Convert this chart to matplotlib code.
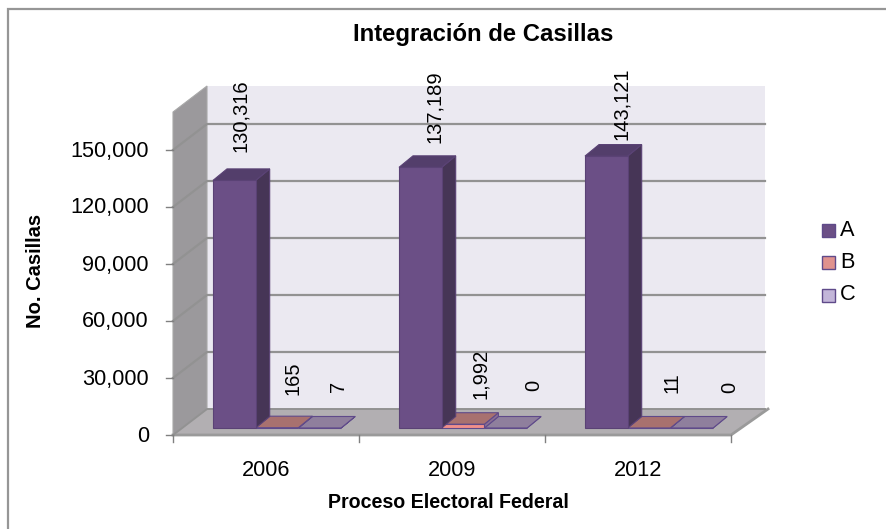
import matplotlib
matplotlib.use("Agg")
import matplotlib.pyplot as plt
from matplotlib.patches import Polygon, Rectangle

categories = ["2006", "2009", "2012"]
series_names = ["A", "B", "C"]
series_A = [130316, 137189, 143121]
series_B = [165, 1992, 11]
series_C = [7, 0, 0]
y_ticks = [0, 30000, 60000, 90000, 120000, 150000]
wall_max = 170000

W, H = 886, 529
plt.rcParams["font.family"] = ["Liberation Sans", "DejaVu Sans"]
fig = plt.figure(figsize=(W / 100, H / 100), dpi=100, facecolor="white")
ax = fig.add_axes([0, 0, 1, 1])

X0, CAT_W, Y0, PX_PER_VAL = 173, 186, 435, 57 / 30000
ax.set_xlim(-X0 / CAT_W, (W - X0) / CAT_W)
ax.set_ylim((Y0 - H) / PX_PER_VAL, Y0 / PX_PER_VAL)
ax.axis("off")


def dx(px):
    return px / CAT_W


def dy(px):
    return px / PX_PER_VAL


def poly(pts, **kw):
    ax.add_patch(Polygon(pts, closed=True, **kw))


WALL_DX, WALL_DY = 34, 26
x_end = len(categories)

# frame: its right and bottom sides lie beyond the picture's edge
ax.add_patch(Rectangle((dx(8.5 - X0), dy(Y0 - 560)), dx(920), dy(551.5),
                       fc="white", ec="#969696", lw=1.6))

# back wall
poly([(dx(WALL_DX), dy(WALL_DY)), (x_end + dx(WALL_DX), dy(WALL_DY)),
      (x_end + dx(WALL_DX), dy(WALL_DY) + wall_max), (dx(WALL_DX), dy(WALL_DY) + wall_max)],
     fc="#ebe9f1", ec="none", zorder=1)
# side wall
poly([(0, 0), (dx(WALL_DX), dy(WALL_DY)), (dx(WALL_DX), dy(WALL_DY) + wall_max), (0, wall_max)],
     fc="#9b999c", ec="#a8a8a8", lw=0.8, zorder=1)
# floor
poly([(0, 0), (x_end, 0), (x_end + dx(WALL_DX + 3), dy(WALL_DY)), (dx(WALL_DX), dy(WALL_DY))],
     fc="#b2afb2", ec="none", zorder=1.5)
ax.plot([0, x_end, x_end + dx(WALL_DX + 3)], [0, 0, dy(WALL_DY)], color="#9a9a9a", lw=2, zorder=1.6)

# gridlines
for v in y_ticks:
    ax.plot([0, dx(WALL_DX), x_end + dx(WALL_DX)], [v, v + dy(WALL_DY), v + dy(WALL_DY)],
            color="#929292", lw=1.6 if v else 1.4, zorder=1.7, solid_joinstyle="miter")
    ax.plot([dx(-7), 0], [v, v], color="#808080", lw=1, zorder=1.7)
    ax.text(dx(-24), v - dy(1), f"{v:,}", ha="right", va="center", fontsize=15.7, color="black")

for i in range(x_end + 1):
    ax.plot([i, i], [0, dy(-7)], color="#808080", lw=1, zorder=1.7)

# bars
BAR_W, BAR_DX, BAR_DY = 42.7, 14, 11.5
LEFT_PAD, BASE_PX = 40, 7
styles = [("#6b4f86", "#533e6b", "#463556", "#5a4275"),
          ("#f08f8a", "#a8716f", "#8b6f93", "#5f4a8a"),
          ("#c3b6d9", "#8f7f9d", "#7a6a94", "#5f4a8a")]
series = [series_A, series_B, series_C]
label_dx = [[28, 36, 37], [37, 39, 44], [40, 49, 59]]
label_dy = [[53, 49, 40.5], [38, 39, 33.5], [30.5, 31.5, 29.5]]
for c in range(x_end):
    for s, vals in enumerate(series):
        v = vals[c]
        l = c + dx(LEFT_PAD + s * BAR_W)
        r = l + dx(BAR_W)
        b = dy(BASE_PX)
        t = b + v
        front, top, side, edge = styles[s]
        ox, oy = dx(BAR_DX), dy(BAR_DY)
        z = 3 + (2 - s) * 0.1
        poly([(r, b), (r + ox, b + oy), (r + ox, t + oy), (r, t)], fc=side, ec=edge, lw=0.8, zorder=z)
        poly([(l, t), (r, t), (r + ox, t + oy), (l + ox, t + oy)], fc=top, ec=edge, lw=0.8, zorder=z)
        poly([(l, b), (r, b), (r, t), (l, t)], fc=front, ec=edge, lw=0.8, zorder=z)
        ax.text(l + dx(label_dx[s][c]), t + oy + dy(label_dy[s][c]), f"{v:,}", rotation=90,
                ha="center", va="center", fontsize=14.5, color="black", zorder=6)

# category labels
for i, name in enumerate(categories):
    ax.text(i + 0.5, dy(-36), name, ha="center", va="center", fontsize=15.7)

ax.text(dx(483 - X0), dy(Y0 - 35), "Integración de Casillas", ha="center", va="center",
        fontsize=17.2, fontweight="bold")
ax.text(dx(448 - X0), dy(Y0 - 503), "Proceso Electoral Federal", ha="center", va="center",
        fontsize=14.1, fontweight="bold")
ax.text(dx(36 - X0), dy(Y0 - 271), "No. Casillas", ha="center", va="center", rotation=90,
        fontsize=14.5, fontweight="bold")

# legend
legend_y = [230, 262, 295]
legend_c = ["#6b4f86", "#e0928e", "#c3b6d9"]
for name, py, col in zip(series_names, legend_y, legend_c):
    ax.add_patch(Rectangle((dx(822 - X0), dy(Y0 - py - 6.5)), dx(13), dy(13), fc=col, ec="#5f4a8a", lw=1))
    ax.text(dx(840 - X0), dy(Y0 - py), name, ha="left", va="center", fontsize=15.7)

fig.savefig("out.png", dpi=100, facecolor="white")
